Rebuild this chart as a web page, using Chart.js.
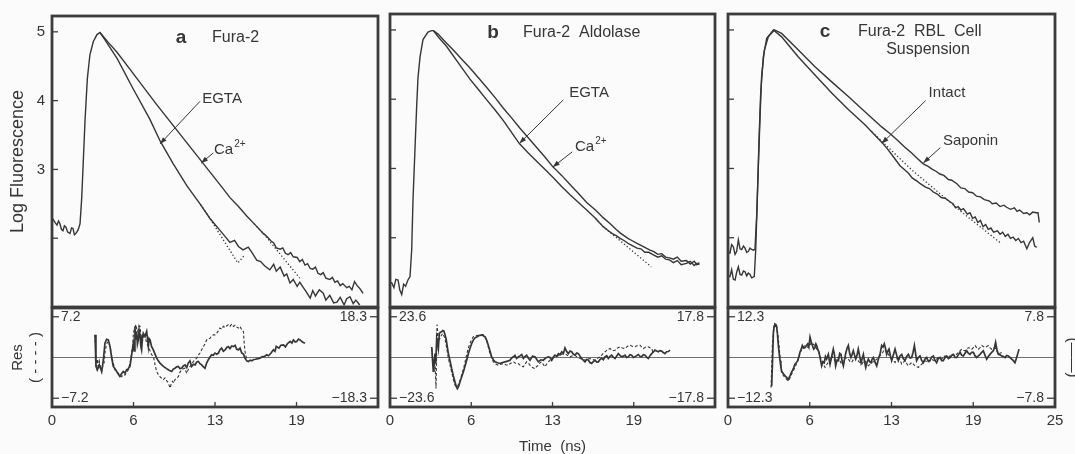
<!DOCTYPE html>
<html>
<head>
<meta charset="utf-8">
<script src="https://cdn.jsdelivr.net/npm/chart.js@4.4.1/dist/chart.umd.min.js"></script>
<style>
html, body { margin: 0; padding: 0; background: #fbfbfb; }
#fig { position: relative; width: 1075px; height: 454px; overflow: hidden; }
#fig canvas { position: absolute; left: 0; top: 0; }
</style>
</head>
<body>
<div id="fig">
  <canvas id="aTop" width="1075" height="454"></canvas>
  <canvas id="bTop" width="1075" height="454"></canvas>
  <canvas id="cTop" width="1075" height="454"></canvas>
  <canvas id="aRes" width="1075" height="454"></canvas>
  <canvas id="bRes" width="1075" height="454"></canvas>
  <canvas id="cRes" width="1075" height="454"></canvas>
</div>
<script>
// ---- axis ticks ----
const logTicks = [2, 3, 4, 5];
const logLabels = ['', '3', '4', '5'];
const timeTicks = [0, 6.25, 12.5, 18.75, 25];
const timeLabels = ['0', '6', '13', '19', '25'];

// residual scale limits [left (dashed), right (solid)]
const aResLim = [7.2, 18.3];
const bResLim = [23.6, 17.8];
const cResLim = [12.3, 7.8];

// ---- panel a : Fura-2  (time ns, log fluorescence) ----
const aEgta = [[0,2.30],[0.23,2.23],[0.38,2.19],[0.5,2.25],[0.61,2.21],[0.72,2.13],[0.84,2.11],[0.95,2.18],[1.07,2.16],
  [1.2,2.09],[1.38,2.07],[1.5,2.15],[1.61,2.14],[1.72,2.05],[1.84,2.07],[2.0,2.12],[2.15,2.21],[2.28,2.59],[2.40,3.12],
  [2.53,3.70],[2.71,4.32],[2.91,4.67],[3.17,4.86],[3.45,4.96],[3.68,4.99],[4.0,4.90],[5.0,4.61],[6.2,4.18],[7.5,3.73],
  [8.3,3.41],[9.3,3.08],[10.35,2.76],[11.35,2.50],[12.1,2.29],[12.5,2.20],[12.9,2.11],[13.3,2.02],[13.65,1.94],[14.0,1.97],
  [14.3,1.88],[14.65,1.83],[15.05,1.87],[15.3,1.80],[15.7,1.68],[16.0,1.66],[16.3,1.60],[16.7,1.54],[17.0,1.62],[17.2,1.52],
  [17.5,1.58],[17.8,1.45],[18.0,1.48],[18.25,1.35],[18.5,1.40],[18.8,1.30],[19.0,1.36],[19.25,1.29],[19.5,1.22],[19.8,1.13],
  [20.0,1.24],[20.2,1.16],[20.5,1.25],[20.8,1.20],[21.0,1.10],[21.3,1.17],[21.6,1.06],[21.85,1.07],[22.1,1.14],[22.4,1.03],
  [22.6,1.12],[22.85,1.15],[23.1,1.05],[23.3,1.10],[23.6,1.03]];
const aCa = [[3.68,4.99],[4.3,4.85],[5.0,4.70],[6.0,4.45],[7.0,4.20],[8.0,3.95],[9.0,3.71],[10.0,3.47],[11.0,3.23],[12.0,2.99],
  [13.0,2.75],[13.65,2.59],[14.3,2.46],[14.95,2.32],[15.6,2.19],[16.2,2.07],[16.5,2.02],[16.8,1.96],[17.0,1.93],[17.2,1.86],
  [17.5,1.84],[17.7,1.86],[17.9,1.78],[18.1,1.76],[18.3,1.79],[18.5,1.73],[18.8,1.72],[19.0,1.66],[19.2,1.69],[19.4,1.61],
  [19.6,1.63],[19.8,1.56],[20.0,1.55],[20.2,1.58],[20.4,1.49],[20.6,1.47],[20.8,1.50],[21.0,1.42],[21.3,1.40],[21.5,1.43],
  [21.7,1.36],[21.9,1.38],[22.1,1.31],[22.3,1.34],[22.6,1.28],[22.8,1.30],[23.0,1.25],[23.2,1.37],[23.4,1.31],[23.6,1.27],[23.85,1.20]];
const aEgtaFit = [[11.4,2.49],[12.1,2.29],[14.25,1.64],[14.8,1.76]];
const aCaFit = [[15.5,2.21],[16.2,2.07],[19.0,1.42]];

// residuals panel a: solid (right scale), dashed (left scale)
const aResSolid = [[3.30,10.2],[3.37,-4.0],[3.48,-5.5],[3.63,-3.3],[3.81,-6.3],[3.94,-1.0],[4.06,6.4],[4.19,8.2],[4.32,7.9],
  [4.45,4.9],[4.58,-0.3],[4.70,-4.0],[4.83,-5.0],[4.96,-6.3],[5.09,-7.5],[5.21,-8.5],[5.34,-7.2],[5.47,-6.3],[5.60,-7.0],
  [5.72,-5.5],[5.85,-5.0],[5.98,-4.0],[6.11,1.2],[6.24,6.4],[6.30,3.0],[6.36,13.9],[6.42,8.0],[6.49,11.7],[6.55,6.0],
  [6.62,7.9],[6.68,12.5],[6.75,10.2],[6.81,5.0],[6.87,3.4],[6.94,9.0],[7.00,10.9],[7.13,9.5],[7.26,11.7],[7.39,4.9],
  [7.45,8.5],[7.52,7.9],[7.64,4.9],[7.77,3.4],[7.90,1.5],[8.03,-0.3],[8.15,-1.5],[8.28,-2.5],[8.54,-4.0],[8.79,-5.0],
  [8.92,-5.5],[9.05,-6.0],[9.18,-6.3],[9.30,-5.2],[9.43,-4.8],[9.56,-4.2],[9.69,-4.0],[9.81,-5.0],[9.94,-4.8],[10.07,-3.8],
  [10.2,-3.3],[10.33,-4.5],[10.45,-2.5],[10.58,-1.5],[10.71,-4.0],[10.84,-3.0],[10.97,-3.3],[11.1,-2.0],[11.22,-1.8],
  [11.35,-2.8],[11.48,-3.3],[11.61,-4.2],[11.73,-4.8],[11.86,-2.5],[11.99,-1.0],[12.12,0.2],[12.24,1.2],[12.37,1.0],
  [12.5,2.0],[12.63,1.5],[12.76,2.0],[12.88,3.5],[13.01,4.2],[13.14,2.8],[13.27,3.4],[13.4,4.5],[13.52,4.9],[13.65,4.0],
  [13.78,5.2],[13.91,4.9],[14.04,5.5],[14.16,3.8],[14.29,3.4],[14.42,4.2],[14.55,2.0],[14.68,1.5],[14.8,-0.3],[14.93,-1.5],
  [15.06,-1.8],[15.2,-1.2],[15.32,-1.5],[15.44,-1.0],[15.6,-0.8],[15.8,-0.5],[15.95,-0.3],[16.1,0.3],[16.3,0.5],[16.46,1.2],
  [16.6,0.8],[16.8,2.0],[16.98,3.5],[17.1,2.8],[17.2,5.0],[17.4,4.2],[17.55,5.5],[17.75,5.7],[17.9,4.8],[18.05,6.2],
  [18.26,7.2],[18.4,6.5],[18.51,7.9],[18.65,7.0],[18.77,7.2],[18.9,8.3],[19.02,7.9],[19.2,7.0],[19.4,6.4]];
const aResDashed = [[3.30,4.0],[3.36,0.5],[3.42,-1.6],[3.5,-0.3],[3.56,-2.0],[3.63,-0.7],[3.72,-1.8],[3.81,-2.5],[3.90,-1.5],
  [3.99,-1.0],[4.06,0.8],[4.14,1.9],[4.23,2.6],[4.32,2.8],[4.41,2.2],[4.50,1.4],[4.60,0.0],[4.70,-1.0],[4.83,-2.2],
  [4.96,-2.5],[5.09,-2.8],[5.21,-3.1],[5.34,-3.4],[5.47,-3.0],[5.60,-3.1],[5.72,-2.6],[5.85,-2.2],[5.98,-1.0],[6.11,0.8],
  [6.20,2.5],[6.24,4.3],[6.34,5.2],[6.44,5.8],[6.53,4.6],[6.62,4.9],[6.69,5.6],[6.75,5.5],[6.82,3.8],[6.87,2.5],[6.95,3.0],
  [7.04,4.2],[7.13,3.7],[7.26,2.6],[7.39,1.9],[7.52,1.2],[7.64,0.5],[7.77,0.2],[7.84,-0.5],[7.90,-1.3],[8.03,-2.5],
  [8.15,-3.0],[8.28,-3.4],[8.41,-3.7],[8.54,-3.9],[8.66,-3.6],[8.79,-4.1],[8.92,-4.5],[9.05,-5.4],[9.15,-4.6],[9.25,-4.2],
  [9.34,-4.5],[9.43,-3.9],[9.56,-3.6],[9.69,-3.4],[9.81,-2.6],[9.94,-2.2],[10.07,-2.0],[10.2,-1.9],[10.26,-2.4],
  [10.33,-2.8],[10.45,-2.1],[10.58,-1.6],[10.71,-1.2],[10.84,-0.7],[10.97,-0.4],[11.1,-0.1],[11.22,0.4],[11.35,0.8],
  [11.48,1.4],[11.61,1.9],[11.73,2.4],[11.86,3.1],[11.99,3.3],[12.12,3.4],[12.24,3.8],[12.37,4.0],[12.5,4.0],[12.63,4.3],
  [12.76,4.7],[12.88,5.2],[13.01,5.0],[13.14,5.5],[13.27,5.3],[13.4,5.6],[13.52,5.8],[13.65,5.5],[13.78,5.9],[13.91,5.5],
  [14.04,5.7],[14.16,5.4],[14.29,5.2],[14.42,5.5],[14.55,4.9],[14.68,4.6],[14.74,2.5],[14.8,1.1],[14.93,-0.4]];

// ---- panel b : Fura-2 Aldolase ----
const bEgta = [[0,1.35],[0.13,1.35],[0.3,1.28],[0.45,1.40],[0.62,1.39],[0.75,1.25],[0.9,1.18],[1.05,1.33],[1.2,1.30],
  [1.38,1.39],[1.54,1.44],[1.67,1.83],[1.77,2.55],[1.92,3.27],[2.05,3.89],[2.15,4.30],[2.31,4.61],[2.54,4.86],[2.92,4.97],
  [3.2,4.99],[3.33,4.99],[3.8,4.88],[4.36,4.76],[5.2,4.54],[6.15,4.29],[6.8,4.14],[7.44,3.99],[8.1,3.84],[8.72,3.69],
  [9.35,3.52],[9.95,3.36],[10.6,3.23],[11.3,3.10],[11.95,2.98],[12.6,2.86],[13.2,2.74],[13.85,2.62],[14.5,2.51],
  [15.13,2.40],[15.8,2.28],[16.4,2.16],[16.8,2.10],[17.1,2.06],[17.4,2.03],[17.7,1.99],[18.0,1.96],[18.3,1.92],[18.6,1.89],
  [19.0,1.85],[19.3,1.84],[19.6,1.79],[19.9,1.79],[20.3,1.75],[20.6,1.72],[20.9,1.74],[21.2,1.69],[21.5,1.68],[21.8,1.64],
  [22.1,1.67],[22.4,1.61],[22.8,1.63],[23.1,1.66],[23.4,1.60],[23.6,1.63],[23.8,1.61]];
const bCa = [[3.33,4.99],[3.7,4.94],[4.3,4.82],[4.87,4.71],[5.5,4.58],[6.15,4.45],[6.8,4.31],[7.44,4.17],[8.1,4.02],[8.72,3.87],
  [9.35,3.73],[10.0,3.58],[10.65,3.44],[11.3,3.30],[11.9,3.17],[12.5,3.03],[13.2,2.90],[13.85,2.77],[14.5,2.64],[15.13,2.51],
  [15.8,2.40],[16.4,2.29],[17.0,2.19],[17.4,2.12],[17.7,2.07],[18.0,2.03],[18.3,1.99],[18.6,1.96],[19.0,1.92],[19.3,1.89],
  [19.6,1.86],[20.0,1.82],[20.3,1.80],[20.6,1.76],[20.9,1.77],[21.2,1.72],[21.5,1.71],[21.8,1.69],[22.1,1.72],[22.4,1.66],
  [22.8,1.67],[23.1,1.62],[23.4,1.66],[23.6,1.61],[23.8,1.64]];
const bEgtaFit = [[15.8,2.28],[16.4,2.16],[20.1,1.58]];

const bResSolid = [[3.21,4.6],[3.28,-1.9],[3.33,-6.0],[3.38,-4.1],[3.46,1.7],[3.52,-2.5],[3.59,8.3],[3.66,6.0],[3.72,3.9],
  [3.79,10.5],[3.88,11.0],[3.97,11.2],[4.06,11.8],[4.15,11.5],[4.23,10.0],[4.31,8.3],[4.40,5.0],[4.49,1.7],[4.62,-1.5],
  [4.74,-4.8],[4.87,-8.0],[5.0,-10.7],[5.09,-12.5],[5.18,-13.6],[5.28,-12.6],[5.38,-10.7],[5.51,-8.5],[5.64,-6.3],
  [5.77,-3.8],[5.9,-1.2],[6.02,1.5],[6.15,3.9],[6.28,6.0],[6.41,7.6],[6.54,8.6],[6.67,9.0],[6.86,9.6],[7.05,9.8],[7.18,9.5],
  [7.31,9.0],[7.44,7.5],[7.56,5.4],[7.69,2.8],[7.82,0.3],[7.95,-1.0],[8.08,-1.9],[8.27,-2.3],[8.46,-2.6],[8.65,-2.2],
  [8.85,-1.9],[9.04,-1.6],[9.23,-1.2],[9.36,-0.2],[9.49,0.3],[9.61,0.9],[9.74,-0.4],[9.87,0.2],[10.0,0.7],[10.13,1.3],
  [10.26,-0.4],[10.38,0.4],[10.51,1.0],[10.64,-0.2],[10.77,-1.2],[10.96,0.6],[11.15,0.3],[11.28,-0.8],[11.41,-1.9],
  [11.6,-1.0],[11.79,-1.2],[11.98,-0.2],[12.18,0.3],[12.31,0.0],[12.44,-1.2],[12.57,0.2],[12.69,1.0],[12.82,0.5],[12.95,1.7],
  [13.08,1.2],[13.21,2.5],[13.34,1.8],[13.46,4.2],[13.59,2.6],[13.72,1.7],[13.85,2.8],[13.97,2.5],[14.1,1.5],[14.23,1.0],
  [14.36,2.0],[14.49,1.7],[14.62,0.6],[14.74,-0.4],[14.87,-1.2],[15.0,-1.9],[15.13,-0.8],[15.26,-1.2],[15.38,-2.2],
  [15.51,-2.6],[15.64,-1.8],[15.77,-1.2],[15.9,-2.0],[16.03,-1.9],[16.15,-0.9],[16.28,-0.4],[16.41,-1.0],[16.54,0.3],
  [16.67,0.8],[16.79,-0.4],[16.92,0.5],[17.05,1.0],[17.18,0.2],[17.31,-0.4],[17.44,0.6],[17.56,1.7],[17.69,0.9],[17.82,0.3],
  [17.95,0.6],[18.08,1.0],[18.2,0.0],[18.33,0.3],[18.46,1.2],[18.59,1.0],[18.72,0.0],[18.85,0.3],[18.97,0.8],[19.1,1.3],
  [19.23,0.5],[19.36,0.3],[19.49,1.2],[19.62,1.0],[19.74,0.2],[19.87,-0.4],[20.0,0.8],[20.13,1.7],[20.26,2.4],[20.38,3.2],
  [20.51,2.8],[20.64,2.5],[20.77,3.0],[20.9,2.8],[21.02,2.2],[21.15,1.7],[21.28,2.5],[21.41,2.6],[21.54,3.2]];
const bResDashed = [[3.21,5.2],[3.27,0.5],[3.33,-4.5],[3.40,-1.0],[3.46,-2.5],[3.50,-10.0],[3.54,-18.0],[3.58,0.0],[3.62,19.1],
  [3.67,14.0],[3.72,9.1],[3.78,10.5],[3.85,11.0],[3.95,12.8],[4.05,13.9],[4.14,12.6],[4.23,11.0],[4.36,5.5],[4.49,-0.6],
  [4.62,-4.5],[4.74,-8.3],[4.87,-12.5],[5.0,-16.1],[5.09,-16.8],[5.18,-17.0],[5.31,-14.8],[5.44,-12.2],[5.56,-8.8],
  [5.69,-5.4],[5.82,-1.0],[5.95,3.3],[6.05,6.0],[6.15,8.1],[6.28,10.3],[6.41,12.0],[6.6,12.6],[6.79,12.9],[6.98,13.1],
  [7.18,13.3],[7.31,12.2],[7.44,10.0],[7.56,6.0],[7.69,2.3],[7.82,0.0],[7.95,-2.5],[8.14,-3.8],[8.33,-4.5],[8.52,-3.9],
  [8.72,-3.5],[8.91,-4.2],[9.1,-4.5],[9.3,-3.2],[9.49,-2.5],[9.68,-3.5],[9.87,-3.5],[10.06,-4.8],[10.26,-5.4],[10.38,-3.8],
  [10.51,-2.5],[10.64,-3.2],[10.77,-4.5],[10.96,-5.8],[11.15,-6.4],[11.28,-5.2],[11.41,-4.5],[11.54,-3.0],[11.67,-2.5],
  [11.79,-4.0],[11.92,-5.4],[12.11,-3.0],[12.31,-1.6],[12.5,-0.6],[12.69,0.4],[12.89,0.9],[13.08,1.3],[13.27,2.0],
  [13.46,2.3],[13.66,1.2],[13.85,0.4],[14.04,1.0],[14.23,1.3],[14.42,0.2],[14.62,-0.6],[14.81,-1.0],[15.0,-1.6],[15.19,-0.9],
  [15.38,-0.6],[15.58,-1.2],[15.77,-1.6],[15.96,-0.5],[16.15,0.4],[16.35,2.0],[16.54,3.3],[16.73,4.5],[16.92,5.2],
  [17.11,4.0],[17.31,4.2],[17.5,5.5],[17.69,6.2],[17.88,5.5],[18.08,5.2],[18.27,6.5],[18.46,7.1],[18.66,6.4],[18.85,6.2],
  [19.04,7.0],[19.23,7.1],[19.36,6.0],[19.49,5.2],[19.68,6.0],[19.87,6.2],[20.0,5.6],[20.13,5.2],[20.26,2.3]];

// ---- panel c : Fura-2 RBL cell suspension ----
const cSaponin = [[0,1.80],[0.15,1.78],[0.28,1.90],[0.41,1.87],[0.54,1.76],[0.66,1.80],[0.79,1.97],[0.92,1.84],[1.05,1.83],
  [1.18,1.88],[1.3,1.85],[1.43,1.79],[1.55,1.80],[1.68,1.85],[1.81,1.83],[1.94,1.82],[2.06,1.83],[2.19,2.31],[2.32,3.03],
  [2.45,3.75],[2.57,4.33],[2.78,4.71],[3.08,4.90],[3.54,5.0],[4.10,4.95],[5.38,4.71],[6.65,4.47],[7.93,4.25],[9.2,4.04],
  [10.47,3.82],[11.75,3.60],[12.4,3.50],[13.0,3.40],[13.5,3.31],[14.0,3.23],[14.5,3.14],[14.9,3.07],[15.3,3.03],[15.6,2.99],
  [15.9,2.96],[16.2,2.92],[16.5,2.90],[16.85,2.84],[17.1,2.83],[17.5,2.78],[17.8,2.72],[18.1,2.71],[18.4,2.66],[18.7,2.65],
  [19.0,2.60],[19.3,2.59],[19.6,2.55],[20.0,2.53],[20.2,2.49],[20.5,2.50],[20.8,2.45],[21.1,2.47],[21.3,2.44],[21.6,2.41],
  [21.9,2.43],[22.1,2.38],[22.3,2.40],[22.6,2.35],[22.85,2.36],[23.05,2.33],[23.3,2.37],[23.55,2.36],[23.7,2.36],[23.8,2.22]];
const cIntact = [[0,1.44],[0.15,1.44],[0.28,1.54],[0.41,1.40],[0.54,1.39],[0.66,1.50],[0.79,1.58],[0.92,1.47],[1.05,1.46],
  [1.18,1.52],[1.3,1.51],[1.43,1.45],[1.55,1.49],[1.68,1.47],[1.81,1.42],[2.01,1.44],[2.12,1.83],[2.24,2.55],[2.37,3.41],
  [2.5,4.09],[2.7,4.61],[2.96,4.88],[3.47,5.0],[4.10,4.90],[5.38,4.61],[6.65,4.35],[7.93,4.09],[9.2,3.85],[10.47,3.63],
  [11.75,3.38],[12.2,3.28],[12.6,3.18],[13.15,3.04],[13.5,2.98],[13.8,2.93],[14.1,2.86],[14.43,2.82],[14.7,2.78],[15.1,2.73],
  [15.4,2.71],[15.7,2.66],[16.0,2.63],[16.3,2.58],[16.6,2.57],[16.97,2.52],[17.2,2.49],[17.4,2.43],[17.6,2.45],[17.8,2.40],
  [18.0,2.42],[18.3,2.34],[18.5,2.36],[18.7,2.28],[18.9,2.30],[19.1,2.22],[19.3,2.25],[19.5,2.16],[19.7,2.19],[19.9,2.12],
  [20.1,2.14],[20.3,2.08],[20.6,2.10],[20.8,2.05],[21.0,2.08],[21.2,2.02],[21.4,2.05],[21.6,1.99],[21.8,2.01],[22.0,1.96],
  [22.2,1.99],[22.4,1.93],[22.6,1.95],[22.85,1.84],[23.05,1.93],[23.3,2.00],[23.45,1.88],[23.6,1.86]];
const cIntactFit = [[11.0,3.53],[14.1,2.97],[18.0,2.35],[20.8,1.93]];

const cResSolid = [[3.34,-5.5],[3.40,-1.0],[3.47,4.8],[3.53,6.0],[3.59,6.4],[3.66,6.3],[3.72,5.8],[3.78,4.5],[3.85,2.3],
  [3.92,0.6],[3.98,-0.6],[4.04,-1.8],[4.1,-2.6],[4.23,-3.1],[4.36,-3.5],[4.48,-3.8],[4.61,-4.2],[4.74,-3.5],[4.86,-2.8],
  [4.99,-2.2],[5.12,-1.3],[5.22,-1.0],[5.33,-0.6],[5.42,0.2],[5.5,1.0],[5.6,1.6],[5.68,2.3],[5.78,1.8],[5.89,1.9],[5.99,2.3],
  [6.09,2.6],[6.18,2.0],[6.27,3.9],[6.36,3.0],[6.45,2.3],[6.55,1.6],[6.65,1.9],[6.72,2.6],[6.78,2.3],[6.87,1.5],[6.96,1.0],
  [7.06,-0.3],[7.16,-1.6],[7.26,-0.8],[7.36,-1.0],[7.45,0.2],[7.54,-0.3],[7.67,0.6],[7.8,-1.3],[7.92,0.1],[8.05,1.6],
  [8.14,0.5],[8.23,-1.6],[8.34,-0.5],[8.44,-0.6],[8.54,0.8],[8.64,0.6],[8.73,-0.8],[8.82,-1.6],[8.92,-0.2],[9.02,1.0],
  [9.11,1.8],[9.2,2.3],[9.3,0.8],[9.4,0.0],[9.49,0.6],[9.58,1.3],[9.67,0.5],[9.76,-0.3],[9.86,0.4],[9.96,1.6],[10.07,0.2],
  [10.17,-1.0],[10.26,-0.2],[10.35,0.6],[10.44,-0.8],[10.53,-1.9],[10.63,-0.9],[10.73,-0.3],[10.83,-0.8],[10.93,-1.0],
  [11.02,-0.3],[11.11,0.0],[11.24,-0.9],[11.37,-1.6],[11.5,-0.3],[11.62,0.6],[11.75,2.3],[11.85,2.0],[11.95,2.6],[12.04,1.8],
  [12.13,0.6],[12.22,1.2],[12.31,1.6],[12.41,0.4],[12.51,-0.6],[12.64,0.5],[12.77,1.6],[12.9,0.4],[13.02,-0.6],[13.15,0.3],
  [13.28,0.6],[13.4,-0.2],[13.53,-0.6],[13.66,0.2],[13.79,0.6],[13.92,-0.1],[14.04,0.0],[14.15,1.0],[14.25,2.3],[14.34,0.8],
  [14.42,-0.6],[14.55,0.0],[14.68,0.3],[14.8,-0.5],[14.93,-1.0],[15.06,-0.3],[15.19,0.0],[15.31,-0.7],[15.44,-0.6],
  [15.57,0.1],[15.7,0.3],[15.82,-0.5],[15.95,-1.0],[16.08,-0.2],[16.21,0.0],[16.34,-0.6],[16.46,-0.6],[16.59,0.0],
  [16.72,0.3],[16.85,-0.2],[16.97,0.0],[17.1,0.4],[17.23,0.6],[17.36,0.0],[17.48,0.0],[17.61,0.5],[17.74,1.0],[17.87,0.4],
  [17.99,0.3],[18.12,0.8],[18.25,1.3],[18.38,0.8],[18.5,0.6],[18.63,1.0],[18.76,1.0],[18.89,0.3],[19.01,0.0],[19.14,0.3],
  [19.27,0.6],[19.4,1.0],[19.52,1.3],[19.65,0.4],[19.78,-0.3],[19.9,0.2],[20.03,0.6],[20.16,1.0],[20.29,1.3],[20.38,2.0],
  [20.46,2.9],[20.56,1.5],[20.67,0.6],[20.8,0.5],[20.92,0.3],[21.05,0.2],[21.18,0.0],[21.3,0.4],[21.43,0.3],[21.56,0.0],
  [21.69,-0.3],[21.82,-0.6],[21.94,-1.0],[22.07,0.0],[22.25,1.6]];
const cResDashed = [[3.29,-9.1],[3.34,-3.0],[3.39,3.6],[3.47,7.5],[3.54,9.6],[3.63,10.0],[3.72,9.6],[3.81,7.0],[3.9,3.6],
  [4.0,-0.5],[4.1,-4.6],[4.23,-5.4],[4.36,-6.1],[4.48,-6.6],[4.61,-7.1],[4.74,-6.2],[4.87,-5.0],[4.99,-4.0],[5.12,-3.0],
  [5.25,-1.8],[5.38,-0.5],[5.5,1.0],[5.63,2.5],[5.76,3.2],[5.89,3.6],[6.01,3.3],[6.14,3.0],[6.27,3.8],[6.4,4.6],[6.52,4.0],
  [6.65,3.6],[6.78,2.6],[6.91,2.0],[7.03,0.5],[7.16,-1.0],[7.29,-2.0],[7.42,-3.0],[7.54,-2.2],[7.67,-1.5],[7.8,-0.5],
  [7.93,0.5],[8.05,-0.3],[8.18,-1.0],[8.31,-0.3],[8.44,0.0],[8.56,-1.0],[8.69,-2.0],[8.82,-0.8],[8.95,0.0],[9.07,-0.3],
  [9.2,-0.5],[9.33,-1.2],[9.45,-1.5],[9.58,-0.6],[9.71,0.0],[9.84,-0.6],[9.96,-1.0],[10.09,-1.6],[10.22,-2.0],[10.35,-1.3],
  [10.47,-1.0],[10.6,-1.8],[10.73,-2.5],[10.86,-2.0],[10.98,-1.5],[11.11,-1.3],[11.24,-1.0],[11.37,-0.5],[11.49,0.0],
  [11.62,0.6],[11.75,1.0],[11.87,1.8],[12.0,2.5],[12.13,1.6],[12.26,1.0],[12.38,0.2],[12.51,-0.5],[12.64,-1.0],[12.77,-1.5],
  [12.89,-0.5],[13.02,0.5],[13.15,-0.8],[13.28,-2.0],[13.4,-1.5],[13.53,-1.0],[13.66,-1.8],[13.79,-2.5],[13.91,-2.0],
  [14.04,-1.5],[14.17,-2.0],[14.3,-2.5],[14.42,-2.8],[14.55,-3.0],[14.68,-2.5],[14.81,-2.0],[14.93,-1.5],[15.06,-1.0],
  [15.19,-1.2],[15.32,-1.5],[15.44,-1.0],[15.57,-0.5],[15.7,-0.8],[15.83,-1.0],[15.95,-0.5],[16.08,0.0],[16.21,-0.3],
  [16.34,-0.5],[16.46,0.0],[16.59,0.5],[16.72,0.2],[16.85,0.0],[16.97,0.5],[17.1,1.0],[17.23,0.8],[17.36,0.5],[17.48,1.0],
  [17.61,1.5],[17.74,2.0],[17.87,2.5],[17.99,2.2],[18.12,2.0],[18.25,2.5],[18.38,3.0],[18.5,2.8],[18.63,2.5],[18.76,3.0],
  [18.89,3.6],[19.01,3.0],[19.14,2.5],[19.27,3.0],[19.4,3.6],[19.52,3.3],[19.65,3.0],[19.78,3.3],[19.91,3.6],[20.03,3.0],
  [20.16,2.5],[20.29,2.8],[20.42,3.0],[20.54,2.0],[20.67,1.0],[20.8,1.3],[20.92,1.5]];

// ---- annotations (data coordinates: t, log F) ----
const aText = [
  {text: 'a', t: 9.9, v: 4.91, size: 19, weight: 'bold', align: 'center'},
  {text: 'Fura-2', t: 12.27, v: 4.91, size: 16},
  {text: 'EGTA', t: 13.04, v: 4.03, size: 15, align: 'center'},
  {text: 'Ca', sup: '2+', t: 12.42, v: 3.28, size: 15}
];
const aArrows = [[[11.35, 3.99], [8.28, 3.37]], [[12.37, 3.24], [11.43, 3.09]]];
const bText = [
  {text: 'b', t: 7.92, v: 4.96, size: 19, weight: 'bold', align: 'center'},
  {text: 'Fura-2  Aldolase', t: 10.23, v: 4.96, size: 16},
  {text: 'EGTA', t: 15.31, v: 4.09, size: 15, align: 'center'},
  {text: 'Ca', sup: '2+', t: 14.23, v: 3.31, size: 15}
];
const bArrows = [[[13.33, 3.99], [9.95, 3.36]], [[14.02, 3.24], [12.52, 3.02]]];
const cText = [
  {text: 'c', t: 7.42, v: 4.97, size: 19, weight: 'bold', align: 'center'},
  {text: 'Fura-2  RBL  Cell', t: 9.94, v: 4.97, size: 16},
  {text: 'Suspension', t: 15.29, v: 4.72, size: 16, align: 'center'},
  {text: 'Intact', t: 16.74, v: 4.09, size: 15, align: 'center'},
  {text: 'Saponin', t: 16.44, v: 3.40, size: 15}
];
const cArrows = [[[15.11, 3.98], [11.75, 3.36]], [[16.23, 3.30], [14.93, 3.08]]];

// ---- drawing ----
const INK = '#363636';
const FRAME = '#3c3c3c';
const FONT = '"Liberation Sans", Arial, Helvetica, sans-serif';
const W = 1075, H = 454;
const boxes = {a: {left: 52, right: 378}, b: {left: 390, right: 715}, c: {left: 728, right: 1055}};
const TOP = {top: 14, bottom: 307};
const RES = {top: 308, bottom: 407};
const RES_PAD = 1.215;   // scale limit / tick label ratio

Chart.defaults.font.family = FONT;
Chart.defaults.color = INK;

const pts = arr => arr.map(([x, y]) => ({x, y}));
function line(arr, extra) {
  return Object.assign({data: pts(arr), borderColor: INK, borderWidth: 1.2, pointRadius: 0,
    fill: false, tension: 0}, extra);
}
const fmt = v => (v < 0 ? '\u2212' : '') + Math.abs(v).toFixed(1);
const noGrid = {display: false, drawTicks: false};
// fix an axis' thickness only when it is shown (hidden axes still run afterFit)
const fixWidth = w => s => { if (s.options.display) s.width = w; };

const paper = {
  id: 'paper',
  beforeDatasetsDraw(chart, args, o) {
    if (!o.zero) return;
    const {ctx, chartArea: a} = chart;
    const y0 = chart.scales.y.getPixelForValue(0);
    ctx.save();
    ctx.strokeStyle = '#707070';
    ctx.lineWidth = 1;
    ctx.beginPath(); ctx.moveTo(a.left, y0); ctx.lineTo(a.right, y0); ctx.stroke();
    ctx.restore();
  },
  afterDraw(chart, args, o) {
    const {ctx, chartArea: a, scales} = chart;
    ctx.save();
    ctx.strokeStyle = FRAME;
    ctx.lineWidth = 2.8;
    ctx.strokeRect(a.left, a.top, a.right - a.left, a.bottom - a.top);
    ctx.lineWidth = 1.3;
    (o.ticks || []).forEach(tk => {
      const s = scales[tk.scale];
      tk.values.forEach(v => {
        const p = s.getPixelForValue(v);
        ctx.beginPath();
        if (tk.side === 'left') { ctx.moveTo(a.left, p); ctx.lineTo(a.left + tk.len, p); }
        else if (tk.side === 'right') { ctx.moveTo(a.right, p); ctx.lineTo(a.right - tk.len, p); }
        else { ctx.moveTo(p, a.bottom); ctx.lineTo(p, a.bottom - tk.len); }
        ctx.stroke();
      });
    });
    ctx.fillStyle = INK;
    ctx.textBaseline = 'middle';
    (o.edge || []).forEach(l => {
      const y = scales[l.scale].getPixelForValue(l.value);
      ctx.font = `14px ${FONT}`;
      ctx.textAlign = l.side === 'left' ? 'left' : 'right';
      ctx.fillText(fmt(l.value), l.side === 'left' ? a.left + 9 : a.right - 11, y);
    });
    (o.labels || []).forEach(l => {
      const x = scales.x.getPixelForValue(l.t), y = scales.y.getPixelForValue(l.v);
      ctx.font = `${l.weight || 'normal'} ${l.size}px ${FONT}`;
      ctx.textAlign = l.align || 'left';
      ctx.fillText(l.text, x, y);
      if (l.sup) {
        const w = ctx.measureText(l.text).width;
        ctx.font = `10px ${FONT}`;
        ctx.fillText(l.sup, x + w + 1, y - 6);
      }
    });
    ctx.lineWidth = 1;
    ctx.strokeStyle = INK;
    (o.arrows || []).forEach(([from, to]) => {
      const x1 = scales.x.getPixelForValue(from[0]), y1 = scales.y.getPixelForValue(from[1]);
      const x2 = scales.x.getPixelForValue(to[0]), y2 = scales.y.getPixelForValue(to[1]);
      ctx.beginPath(); ctx.moveTo(x1, y1); ctx.lineTo(x2, y2); ctx.stroke();
      const ang = Math.atan2(y2 - y1, x2 - x1);
      ctx.beginPath();
      ctx.moveTo(x2, y2);
      ctx.lineTo(x2 - 7 * Math.cos(ang) + 2.5 * Math.sin(ang), y2 - 7 * Math.sin(ang) - 2.5 * Math.cos(ang));
      ctx.lineTo(x2 - 7 * Math.cos(ang) - 2.5 * Math.sin(ang), y2 - 7 * Math.sin(ang) + 2.5 * Math.cos(ang));
      ctx.closePath(); ctx.fill();
    });
    ctx.restore();
  }
};

const base = {responsive: false, animation: false, events: []};

function topPanel(id, key, curves, fits, labels, arrows, withAxis) {
  const box = boxes[key];
  new Chart(document.getElementById(id), {
    type: 'line',
    data: {datasets: [
      ...curves.map(c => line(c, {borderWidth: 1.4})),
      ...fits.map(f => line(f, {borderDash: [1.3, 2.2], borderWidth: 1.3}))
    ]},
    options: Object.assign({}, base, {
      layout: {padding: {left: withAxis ? 0 : box.left, right: W - box.right, top: TOP.top, bottom: H - TOP.bottom}},
      plugins: {legend: {display: false}, tooltip: {enabled: false},
        paper: {ticks: [{scale: 'y', side: 'left', values: logTicks, len: 6}], labels, arrows}},
      scales: {
        x: {type: 'linear', min: 0, max: 25, display: false},
        y: {type: 'linear', min: 1, max: 5.23, display: withAxis, position: 'left',
          grid: noGrid, border: {display: false},
          afterBuildTicks: s => { s.ticks = logTicks.map(v => ({value: v})); },
          afterFit: fixWidth(box.left),
          ticks: {padding: 7, font: {size: 15}, callback: (v, i) => logLabels[i]},
          title: {display: true, text: 'Log Fluorescence', font: {size: 18}, padding: {top: 7, bottom: 0}}}
      }
    }),
    plugins: [paper]
  });
}

function resPanel(id, key, lim, solid, dashed, opt) {
  const box = boxes[key];
  new Chart(document.getElementById(id), {
    type: 'line',
    data: {datasets: [
      line(dashed, {yAxisID: 'y', borderDash: [3, 2], borderWidth: 1.1}),
      line(solid, {yAxisID: 'yR', borderWidth: 1.7})
    ]},
    options: Object.assign({}, base, {
      layout: {padding: {left: opt.left ? 0 : box.left, right: opt.right ? 0 : W - box.right, top: RES.top, bottom: 0}},
      plugins: {legend: {display: false}, tooltip: {enabled: false},
        paper: {
          zero: true,
          ticks: [{scale: 'y', side: 'left', values: [lim[0], -lim[0]], len: 7},
                  {scale: 'yR', side: 'right', values: [lim[1], -lim[1]], len: 8},
                  {scale: 'x', side: 'bottom', values: timeTicks.slice(1, 4), len: 5}],
          edge: [{scale: 'y', value: lim[0], side: 'left'}, {scale: 'y', value: -lim[0], side: 'left'},
                 {scale: 'yR', value: lim[1], side: 'right'}, {scale: 'yR', value: -lim[1], side: 'right'}]
        }},
      scales: {
        x: {type: 'linear', min: 0, max: 25, position: 'bottom', grid: noGrid, border: {display: false},
          afterBuildTicks: s => { s.ticks = timeTicks.map(v => ({value: v})); },
          afterFit: s => { s.height = H - RES.bottom; },
          ticks: {padding: 5, font: {size: 15}, maxRotation: 0, autoSkip: false,
            callback: (v, i) => (i === timeTicks.length - 1 && !opt.last) ? '' : timeLabels[i]},
          title: {display: !!opt.xTitle, text: opt.xTitle || '', font: {size: 15}, padding: {top: 0, bottom: -2}}},
        y: {type: 'linear', min: -lim[0] * RES_PAD, max: lim[0] * RES_PAD, display: !!opt.left, position: 'left',
          grid: noGrid, border: {display: false}, ticks: {display: false},
          afterFit: fixWidth(box.left),
          title: {display: true, text: ['Res', '( - - - - )'], font: {size: 15}, padding: {top: 9, bottom: 0}}},
        yR: {type: 'linear', min: -lim[1] * RES_PAD, max: lim[1] * RES_PAD, display: !!opt.right, position: 'right',
          grid: noGrid, border: {display: false}, ticks: {display: false},
          afterFit: fixWidth(W - box.right),
          title: {display: true, text: ['Res', '(\u2014\u2014)'], font: {size: 15}, padding: {top: -24, bottom: 0}}}
      }
    }),
    plugins: [paper]
  });
}

topPanel('aTop', 'a', [aEgta, aCa], [aEgtaFit, aCaFit], aText, aArrows, true);
topPanel('bTop', 'b', [bEgta, bCa], [bEgtaFit], bText, bArrows, false);
topPanel('cTop', 'c', [cSaponin, cIntact], [cIntactFit], cText, cArrows, false);
resPanel('aRes', 'a', aResLim, aResSolid, aResDashed, {left: true});
resPanel('bRes', 'b', bResLim, bResSolid, bResDashed, {xTitle: 'Time  (ns)'});
resPanel('cRes', 'c', cResLim, cResSolid, cResDashed, {right: true, last: true});
</script>
</body>
</html>
